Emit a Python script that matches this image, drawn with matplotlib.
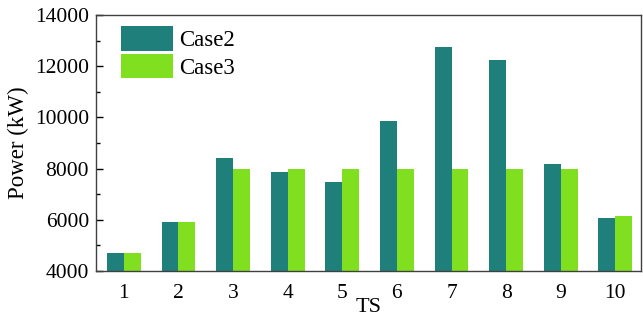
import numpy as np
import matplotlib
matplotlib.use("Agg")
import matplotlib.pyplot as plt
from matplotlib.ticker import MultipleLocator

# Power per time slot for the two cases
ts_labels = ["1", "2", "3", "4", "5", "6", "7", "8", "9", "10"]
case2 = [4700, 5900, 8400, 7850, 7460, 9860, 12740, 12250, 8180, 6080]
case3 = [4700, 5900, 8000, 8000, 8000, 8000, 8000, 8000, 8000, 6160]

plt.rcParams["font.family"] = ["Liberation Serif", "DejaVu Serif"]

fig = plt.figure(figsize=(6.43, 3.22), dpi=100)
ax = fig.add_axes([96 / 643, 1 - 271 / 322, 545 / 643, 256 / 322])

x = np.arange(1, len(ts_labels) + 1)
w = 0.31
ax.bar(x - w / 2, case2, w, color="#1f7f7b", label="Case2", zorder=2)
ax.bar(x + w / 2, case3, w, color="#80e020", label="Case3", zorder=2)

ax.set_ylim(4000, 14000)
ax.set_xlim(0.49, 10.47)
ax.set_xticks(x)
ax.set_xticklabels(ts_labels)
ax.yaxis.set_major_locator(MultipleLocator(2000))
ax.yaxis.set_minor_locator(MultipleLocator(1000))
ax.tick_params(axis="both", which="major", direction="in", length=5,
               width=1, labelsize=15.5, color="black")
ax.tick_params(axis="y", which="minor", direction="in", length=3, width=1)
ax.tick_params(axis="x", pad=9)
ax.tick_params(axis="y", pad=5)

for s in ax.spines.values():
    s.set_color("#404040")
    s.set_linewidth(1.0)
    s.set_zorder(3)

ax.set_ylabel("Power (kW)", fontsize=16.5, labelpad=4)
ax.set_xlabel("TS", fontsize=16, labelpad=-3)

ax.legend(loc="upper left", frameon=False, fontsize=16.5,
          handlelength=2.25, handleheight=1.25, labelspacing=0.12,
          handletextpad=0.3, borderaxespad=0.1, bbox_to_anchor=(0.025, 1.0))

fig.savefig("out.png", dpi=100)
